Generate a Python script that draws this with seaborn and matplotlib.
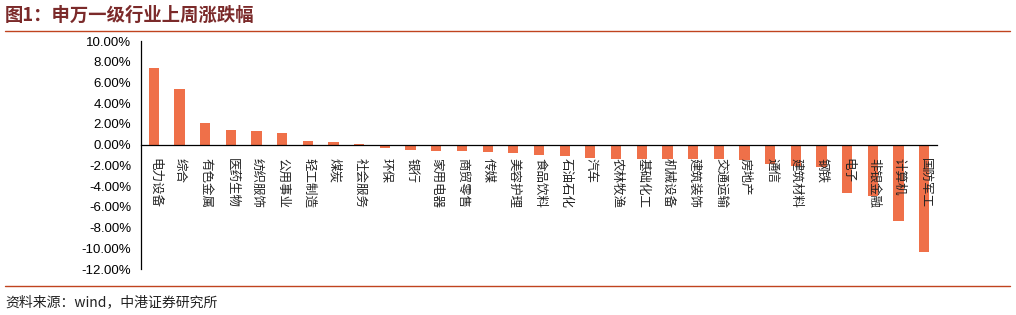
import matplotlib
matplotlib.use("Agg")
import matplotlib.pyplot as plt
import matplotlib.transforms as mtransforms
import seaborn as sns
import pandas as pd
from matplotlib.lines import Line2D
from matplotlib.ticker import FixedLocator, FuncFormatter

categories = ["电力设备", "综合", "有色金属", "医药生物", "纺织服饰", "公用事业", "轻工制造", "煤炭",
              "社会服务", "环保", "银行", "家用电器", "商贸零售", "传媒", "美容护理", "食品饮料",
              "石油石化", "汽车", "农林牧渔", "基础化工", "机械设备", "建筑装饰", "交通运输", "房地产",
              "通信", "建筑材料", "钢铁", "电子", "非银金融", "计算机", "国防军工"]
values = [7.41, 5.38, 2.10, 1.38, 1.36, 1.16, 0.32, 0.28,
          0.02, -0.31, -0.52, -0.58, -0.61, -0.67, -0.82, -0.99,
          -1.08, -1.30, -1.36, -1.38, -1.38, -1.40, -1.42, -1.45,
          -1.87, -2.03, -2.19, -4.62, -4.99, -7.37, -10.34]
yticks = [10, 8, 6, 4, 2, 0, -2, -4, -6, -8, -10, -12]

title = "图1：申万一级行业上周涨跌幅"
source = "资料来源：wind，中港证券研究所"

sns.set_style("white")
plt.rcParams['font.family'] = ['Noto Sans CJK SC', 'DejaVu Sans']

bar_color = "#EF7049"
df = pd.DataFrame({"cat": categories, "val": values})

fig = plt.figure(figsize=(10.16, 3.15), dpi=100)
ax = fig.add_axes([141/1016, 1-269/315, (937-141)/1016, (269-41)/315])
sns.barplot(data=df, x="cat", y="val", color=bar_color, width=0.4, ax=ax,
            saturation=1, edgecolor="none")
for p in ax.patches:
    p.set_zorder(2)

ax.set_xlim(-0.5, len(categories) - 0.5)
ax.set_ylim(-12, 10)
ax.set_xlabel("")
ax.set_ylabel("")

for s in ["top", "right"]:
    ax.spines[s].set_visible(False)
ax.spines["bottom"].set_position(("data", 0))
ax.spines["bottom"].set_color("#000000")
ax.spines["bottom"].set_linewidth(0.9)
ax.spines["left"].set_color("#000000")
ax.spines["left"].set_linewidth(0.9)
ax.spines["bottom"].set_zorder(5)

ax.yaxis.set_major_locator(FixedLocator(yticks))
ax.yaxis.set_major_formatter(FuncFormatter(lambda v, p: f"{v:.2f}%"))
ax.tick_params(axis="y", direction="out", length=4, width=0.8, color="#000000",
               labelsize=9.5, pad=3)
for lab in ax.get_yticklabels():
    lab.set_fontfamily(["Liberation Sans", "DejaVu Sans"])
    lab.set_color("#000000")

# x axis: no labels on ticks; ticks at category boundaries pointing up
ax.set_xticks([])
ax.xaxis.set_minor_locator(FixedLocator([i - 0.5 for i in range(len(categories) + 1)]))
ax.tick_params(axis="x", which="minor", direction="in", length=4, width=0.8, color="#000000")

# category labels hanging below the zero line, drawn over the bars
offset = mtransforms.ScaledTranslation(0.01, -13/100, fig.dpi_scale_trans)
for i, cat in enumerate(categories):
    ax.text(i, 0, cat, transform=ax.transData + offset, rotation=-90,
            va="top", ha="center", fontsize=9, color="#222222", zorder=10,
            rotation_mode="default")

fig.text(5/1016, 1-15/315, title, fontsize=13.2, fontweight="bold", color="#7B2A2A",
         va="center", ha="left")
fig.add_artist(Line2D([5/1016, 1010/1016], [1-30.5/315, 1-30.5/315], color="#C0431F",
                      linewidth=1.0, transform=fig.transFigure))
fig.add_artist(Line2D([5/1016, 1010/1016], [1-286/315, 1-286/315], color="#C0431F",
                      linewidth=1.0, transform=fig.transFigure))
fig.text(5/1016, 1-302/315, source, fontsize=10, color="#222222", va="center", ha="left")

fig.savefig("out.png", dpi=100)
